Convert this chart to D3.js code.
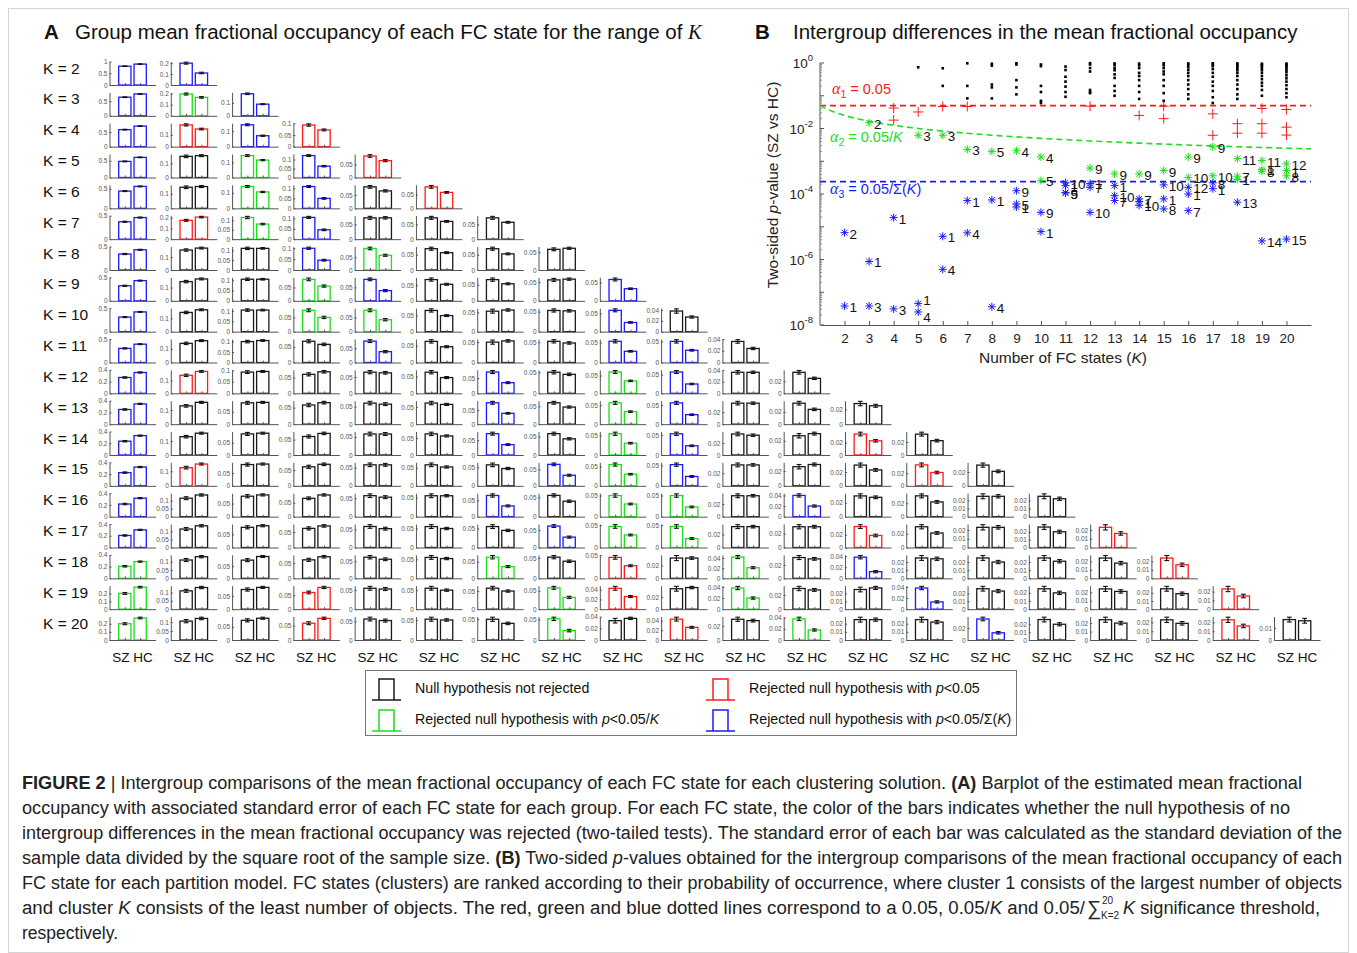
<!DOCTYPE html>
<html lang="en">
<head>
<meta charset="UTF-8">
<title>Figure 2 - fractional occupancy of FC states</title>
<script src="https://d3js.org/d3.v7.min.js"></script>
<style>
  body { margin: 0; background: #fff; }
  svg { font-family: "Liberation Sans", Arial, Helvetica, sans-serif; }
</style>
</head>
<body>
<svg id="fig" width="1357" height="953"></svg>
<script>
// number of FC states per clustering solution
const kValues = [2, 3, 4, 5, 6, 7, 8, 9, 10, 11, 12, 13, 14, 15, 16, 17, 18, 19, 20];

// group mean fractional occupancy, one row per K, one value per FC state
const szMean = [
  [0.80, 0.20],
  [0.635, 0.195, 0.17],
  [0.58, 0.185, 0.14, 0.093],
  [0.48, 0.15, 0.145, 0.122, 0.083],
  [0.44, 0.145, 0.14, 0.11, 0.08, 0.078],
  [0.37, 0.175, 0.115, 0.105, 0.072, 0.072, 0.072],
  [0.34, 0.155, 0.11, 0.10, 0.085, 0.07, 0.07, 0.058],
  [0.32, 0.145, 0.105, 0.08, 0.08, 0.068, 0.066, 0.056, 0.058],
  [0.31, 0.145, 0.105, 0.075, 0.075, 0.066, 0.053, 0.053, 0.058, 0.038],
  [0.30, 0.14, 0.10, 0.068, 0.075, 0.063, 0.05, 0.052, 0.053, 0.05, 0.036],
  [0.27, 0.14, 0.092, 0.06, 0.065, 0.063, 0.07, 0.05, 0.06, 0.057, 0.036, 0.035],
  [0.25, 0.13, 0.086, 0.058, 0.06, 0.062, 0.075, 0.06, 0.056, 0.056, 0.035, 0.034, 0.028],
  [0.235, 0.13, 0.085, 0.06, 0.058, 0.062, 0.072, 0.058, 0.054, 0.053, 0.035, 0.027, 0.034, 0.032],
  [0.225, 0.125, 0.083, 0.06, 0.058, 0.058, 0.057, 0.065, 0.055, 0.052, 0.033, 0.026, 0.03, 0.033, 0.03],
  [0.215, 0.115, 0.078, 0.066, 0.057, 0.055, 0.065, 0.055, 0.05, 0.05, 0.033, 0.04, 0.03, 0.031, 0.025, 0.025],
  [0.205, 0.115, 0.077, 0.062, 0.058, 0.055, 0.055, 0.062, 0.047, 0.047, 0.032, 0.03, 0.033, 0.03, 0.023, 0.026, 0.023],
  [0.205, 0.11, 0.075, 0.06, 0.062, 0.055, 0.063, 0.052, 0.045, 0.032, 0.042, 0.031, 0.038, 0.025, 0.025, 0.025, 0.024, 0.024],
  [0.20, 0.11, 0.075, 0.06, 0.055, 0.055, 0.058, 0.058, 0.043, 0.034, 0.038, 0.029, 0.025, 0.038, 0.026, 0.025, 0.024, 0.025, 0.023],
  [0.20, 0.105, 0.075, 0.058, 0.056, 0.052, 0.05, 0.052, 0.033, 0.043, 0.03, 0.038, 0.025, 0.025, 0.035, 0.026, 0.024, 0.023, 0.023, 0.017]
];
const hcMean = [
  [0.89, 0.11],
  [0.745, 0.165, 0.09],
  [0.70, 0.15, 0.07, 0.072],
  [0.60, 0.155, 0.115, 0.063, 0.065],
  [0.56, 0.15, 0.105, 0.05, 0.065, 0.058],
  [0.46, 0.205, 0.08, 0.045, 0.072, 0.06, 0.057],
  [0.43, 0.17, 0.11, 0.045, 0.058, 0.057, 0.053, 0.061],
  [0.43, 0.165, 0.105, 0.055, 0.038, 0.053, 0.053, 0.058, 0.033],
  [0.42, 0.165, 0.105, 0.05, 0.042, 0.05, 0.056, 0.052, 0.025, 0.027],
  [0.39, 0.16, 0.105, 0.058, 0.038, 0.047, 0.053, 0.048, 0.028, 0.029, 0.024],
  [0.355, 0.17, 0.095, 0.068, 0.063, 0.047, 0.035, 0.045, 0.035, 0.025, 0.036, 0.025],
  [0.345, 0.155, 0.088, 0.065, 0.057, 0.058, 0.038, 0.048, 0.033, 0.025, 0.035, 0.024, 0.025],
  [0.33, 0.155, 0.088, 0.07, 0.058, 0.056, 0.035, 0.044, 0.03, 0.023, 0.033, 0.03, 0.023, 0.022],
  [0.32, 0.15, 0.085, 0.068, 0.058, 0.052, 0.047, 0.032, 0.03, 0.023, 0.033, 0.029, 0.023, 0.021, 0.021],
  [0.315, 0.135, 0.083, 0.078, 0.053, 0.055, 0.033, 0.04, 0.03, 0.023, 0.033, 0.02, 0.028, 0.022, 0.025, 0.022],
  [0.30, 0.135, 0.083, 0.07, 0.052, 0.05, 0.045, 0.03, 0.028, 0.02, 0.032, 0.03, 0.019, 0.021, 0.023, 0.02, 0.016],
  [0.285, 0.13, 0.09, 0.07, 0.056, 0.052, 0.035, 0.042, 0.027, 0.032, 0.021, 0.029, 0.012, 0.024, 0.02, 0.021, 0.018, 0.016],
  [0.28, 0.13, 0.083, 0.078, 0.053, 0.05, 0.05, 0.032, 0.026, 0.036, 0.02, 0.027, 0.027, 0.013, 0.023, 0.02, 0.021, 0.019, 0.015],
  [0.27, 0.12, 0.083, 0.075, 0.052, 0.05, 0.04, 0.023, 0.037, 0.026, 0.028, 0.018, 0.025, 0.022, 0.012, 0.02, 0.02, 0.019, 0.016, 0.016]
];

// approximate standard error by FC state rank
const seSZ = [0.012, 0.009, 0.006, 0.005, 0.005, 0.005, 0.005, 0.004, 0.004, 0.004, 0.003, 0.003, 0.003, 0.003, 0.003, 0.003, 0.003, 0.003, 0.003, 0.002];
const seHC = [0.010, 0.007, 0.004, 0.004, 0.004, 0.003, 0.003, 0.003, 0.002, 0.002, 0.002, 0.002, 0.002, 0.002, 0.002, 0.002, 0.002, 0.002, 0.002, 0.002];

// two-sided p-values (SZ vs HC), one row per K
const pValues = [
  [3.8e-8, 6.6e-6],
  [8.7e-7, 1.5e-2, 3.8e-8],
  [1.9e-5, 4.2e-2, 3.1e-8, 1.8e-2],
  [4.5e-8, 0.74, 6.2e-3, 2.5e-8, 3.2e-2],
  [5.1e-6, 0.69, 6.2e-3, 5.0e-7, 0.2, 4.7e-2],
  [6.3e-5, 4.7e-2, 2.3e-3, 6.5e-6, 0.98, 0.2, 8.3e-2],
  [6.6e-5, 0.95, 0.83, 3.6e-8, 2.0e-3, 0.22, 0.18, 8.3e-2],
  [4.0e-5, 0.98, 0.9, 2.1e-3, 5.0e-5, 0.3, 0.18, 0.11, 1.26e-4],
  [7.1e-6, 0.9, 0.8, 1.35e-3, 2.6e-4, 0.2, 0.13, 0.07, 2.75e-5, 0.06],
  [1.8e-4, 0.78, 0.61, 0.38, 1.1e-4, 0.27, 0.19, 0.13, 1.07e-4, 2.2e-4, 0.093],
  [2.1e-4, 0.048, 0.99, 0.9, 0.7, 0.55, 1.6e-4, 0.15, 6.2e-4, 2.75e-5, 0.13, 0.12],
  [1.8e-4, 0.97, 0.88, 0.72, 0.6, 0.45, 6.3e-5, 0.35, 4.1e-4, 8.9e-5, 0.2, 0.14, 0.1],
  [5.9e-5, 0.96, 0.85, 0.7, 0.5, 0.4, 7.1e-5, 0.3, 4.1e-4, 4.5e-5, 0.2, 0.13, 0.025, 0.08],
  [7.1e-5, 0.048, 0.98, 0.85, 0.7, 0.55, 0.45, 3.5e-5, 5.2e-4, 1.9e-4, 0.3, 0.2, 0.12, 0.02, 0.07],
  [1.0e-4, 0.97, 0.88, 0.75, 0.62, 0.5, 3.1e-5, 0.4, 1.35e-3, 3.2e-4, 0.3, 1.6e-4, 0.22, 0.16, 0.11, 0.08],
  [1.45e-4, 0.98, 0.9, 0.8, 0.65, 0.5, 0.38, 2.2e-4, 2.75e-3, 3.6e-4, 0.27, 0.2, 0.028, 0.14, 0.09, 0.06, 6.2e-3],
  [2.8e-4, 0.97, 0.9, 0.8, 0.7, 0.6, 3.5e-4, 0.5, 0.014, 0.4, 1.2e-3, 0.3, 5.6e-5, 0.22, 0.16, 0.11, 0.08, 7.2e-3],
  [5.6e-4, 0.95, 0.88, 0.041, 0.8, 0.7, 0.6, 5.0e-4, 0.014, 0.5, 1.05e-3, 0.4, 0.32, 3.7e-6, 0.25, 0.2, 0.15, 0.1, 7.2e-3],
  [5.2e-4, 0.96, 0.9, 0.038, 0.82, 0.72, 0.62, 3.6e-4, 0.52, 0.011, 0.42, 8.3e-4, 0.34, 0.27, 4.2e-6, 0.21, 0.16, 0.12, 6.3e-3, 0.09]
];

// vertical nudges (px) for cluster labels that would otherwise collide: "K-cluster"
const labelNudge = { '5-1': -5, '5-4': 4 };

const pTickExponents = [0, -2, -4, -6, -8];
const tickSteps = [0.5, 0.2, 0.1, 0.05, 0.02, 0.01];

const alphaFamily = 0.05 / d3.sum(kValues);   // 0.05 / sum(K)
const COLORS = { ns: '#1a1a1a', red: '#ff1a1a', green: '#1edc1e', blue: '#1a1aff' };

function category(p, K) {
  if (p < alphaFamily) return 'blue';
  if (p < 0.05 / K) return 'green';
  if (p < 0.05) return 'red';
  return 'ns';
}

// pick 1 or 2 ticks whose last tick sits closest to the top of the axis
function smallTicks(top) {
  let best = null;
  tickSteps.forEach(s => {
    const n = Math.floor(top / s + 1e-9);
    if (n < 1 || n > 2) return;
    const cover = n * s / top;
    if (!best || cover > best.cover + 1e-6 || (Math.abs(cover - best.cover) < 1e-6 && n > best.n)) {
      best = { s, n, cover };
    }
  });
  return d3.range(0, best.n + 1).map(i => +(i * best.s).toFixed(3));
}

const svg = d3.select('#fig');
svg.append('rect').attr('width', 1357).attr('height', 953).attr('fill', '#fff');
svg.append('rect').attr('x', 8.5).attr('y', 8.5).attr('width', 1340).attr('height', 944)
  .attr('fill', 'none').attr('stroke', '#d4d4d4');

// ---------- Panel A ----------
const colX = d3.scalePoint().domain(d3.range(1, 21)).range([109.5, 1274]);
const rowY = d3.scalePoint().domain(kValues).range([85, 640]);
const cellW = 46, cellH = 23.5;
const tickFmt = d => String(+d.toFixed(3));
const gA = svg.append('g');

const titleA = svg.append('text').attr('x', 44).attr('y', 39).attr('font-size', 20.5).attr('fill', '#111');
titleA.append('tspan').attr('font-weight', 'bold').text('A');
titleA.append('tspan').attr('x', 75).text('Group mean fractional occupancy of each FC state for the range of ');
titleA.append('tspan').attr('font-family', '"Liberation Serif", "Times New Roman", serif').attr('font-style', 'italic').text('K');

kValues.forEach((K, r) => {
  gA.append('text')
    .attr('x', 43).attr('y', rowY(K) - 17)
    .attr('dominant-baseline', 'central')
    .attr('font-size', 15.5).attr('fill', '#111')
    .text(`K = ${K}`);

  for (let c = 0; c < K; c++) {
    const x0 = colX(c + 1), y0 = rowY(K);
    const bars = [
      { pos: 1, m: szMean[r][c], se: seSZ[c] },
      { pos: 2, m: hcMean[r][c], se: seHC[c] }
    ];
    let top = d3.max(bars, d => d.m + d.se) * 1.03;
    if (top > 0.3) top = Math.ceil(top * 10 - 1e-9) / 10;   // large occupancies get a rounded limit
    const y = d3.scaleLinear().domain([0, top]).range([y0, y0 - cellH]);
    const x = d3.scaleLinear().domain([0, 3]).range([x0, x0 + cellW]);
    const col = COLORS[category(pValues[r][c], K)];
    const cell = gA.append('g');

    cell.selectAll('rect').data(bars).join('rect')
      .attr('x', d => x(d.pos - 0.4))
      .attr('width', x(0.8) - x(0))
      .attr('y', d => y(d.m))
      .attr('height', d => y0 - y(d.m))
      .attr('fill', '#fff')
      .attr('stroke', col)
      .attr('stroke-width', 1.3);

    const eb = cell.selectAll('g.eb').data(bars).join('g').attr('class', 'eb')
      .attr('stroke', '#111').attr('stroke-width', 1.1);
    eb.append('line')
      .attr('x1', d => x(d.pos)).attr('x2', d => x(d.pos))
      .attr('y1', d => y(d.m - d.se)).attr('y2', d => y(d.m + d.se));
    eb.append('line')
      .attr('x1', d => x(d.pos) - 2.4).attr('x2', d => x(d.pos) + 2.4)
      .attr('y1', d => y(d.m + d.se)).attr('y2', d => y(d.m + d.se));
    eb.append('line')
      .attr('x1', d => x(d.pos) - 2.4).attr('x2', d => x(d.pos) + 2.4)
      .attr('y1', d => y(d.m - d.se)).attr('y2', d => y(d.m - d.se));

    cell.append('g').attr('transform', `translate(${x0},0)`)
      .call(d3.axisLeft(y).tickValues(smallTicks(top)).tickSize(-2).tickSizeOuter(0).tickPadding(2).tickFormat(tickFmt))
      .call(ax => {
        ax.attr('font-size', 6.5).attr('font-family', null);
        ax.select('.domain').attr('stroke', '#555');
        ax.selectAll('line').attr('stroke', '#555');
        ax.selectAll('text').attr('fill', '#555');
      });
    cell.append('g').attr('transform', `translate(0,${y0})`)
      .call(d3.axisBottom(x).tickValues([1, 2]).tickSize(-2).tickSizeOuter(0).tickFormat(''))
      .call(ax => {
        ax.select('.domain').attr('stroke', '#555');
        ax.selectAll('line').attr('stroke', '#555');
      });
  }
});

gA.selectAll('text.grp').data(d3.range(1, 21)).join('text')
  .attr('class', 'grp')
  .attr('x', c => colX(c) + cellW / 2)
  .attr('y', 662)
  .attr('text-anchor', 'middle')
  .attr('font-size', 13.5).attr('fill', '#111')
  .text('SZ HC');

// ---------- Legend ----------
const legend = svg.append('g');
legend.append('rect').attr('x', 365.5).attr('y', 670.5).attr('width', 651).attr('height', 65)
  .attr('fill', '#fff').attr('stroke', '#777');
const legendItems = [
  { cat: 'ns', x: 372, y: 700, parts: [['Null hypothesis not rejected']] },
  { cat: 'red', x: 706, y: 700, parts: [['Rejected null hypothesis with '], ['p', 'i'], ['<0.05']] },
  { cat: 'green', x: 372, y: 731, parts: [['Rejected null hypothesis with '], ['p', 'i'], ['<0.05/'], ['K', 'i']] },
  { cat: 'blue', x: 706, y: 731, parts: [['Rejected null hypothesis with '], ['p', 'i'], ['<0.05/Σ('], ['K', 'i'], [')']] }
];
legendItems.forEach(it => {
  const col = COLORS[it.cat];
  legend.append('line').attr('x1', it.x).attr('x2', it.x + 29).attr('y1', it.y).attr('y2', it.y)
    .attr('stroke', col).attr('stroke-width', 1.5);
  legend.append('path')
    .attr('d', `M${it.x + 7},${it.y}V${it.y - 21}H${it.x + 22}V${it.y}`)
    .attr('fill', 'none').attr('stroke', col).attr('stroke-width', 1.5);
  const t = legend.append('text').attr('x', it.x + 43).attr('y', it.y - 7)
    .attr('font-size', 14.2).attr('fill', '#111');
  it.parts.forEach(([s, st]) => {
    const ts = t.append('tspan').text(s);
    if (st === 'i') ts.attr('font-style', 'italic');
  });
});

// ---------- Panel B ----------
const gB = svg.append('g');
const bx = d3.scaleLinear().domain([1, 21]).range([820, 1311]);
const by = d3.scaleLog().domain([1e-8, 1]).range([325, 63]);

const titleB = svg.append('text').attr('x', 755).attr('y', 39).attr('font-size', 20.5).attr('fill', '#111');
titleB.append('tspan').attr('font-weight', 'bold').text('B');
titleB.append('tspan').attr('x', 793).text('Intergroup differences in the mean fractional occupancy');

// y axis with log ticks
gB.append('line').attr('x1', 820).attr('x2', 820).attr('y1', 63).attr('y2', 325).attr('stroke', '#555');
for (let e = -8; e <= 0; e++) {
  gB.append('line').attr('x1', 820).attr('x2', 824).attr('y1', by(10 ** e)).attr('y2', by(10 ** e)).attr('stroke', '#555');
  if (e < 0) {
    for (let m = 2; m <= 9; m++) {
      const v = m * 10 ** e;
      gB.append('line').attr('x1', 820).attr('x2', 822).attr('y1', by(v)).attr('y2', by(v)).attr('stroke', '#888');
    }
  }
}
pTickExponents.forEach(e => {
  const t = gB.append('text').attr('x', 813).attr('y', by(10 ** e) + 5)
    .attr('text-anchor', 'end').attr('font-size', 13.5).attr('fill', '#222');
  t.append('tspan').text('10');
  t.append('tspan').attr('dy', -7).attr('font-size', 9.5).text(String(e));
});

// x axis
gB.append('g').attr('transform', 'translate(0,325)')
  .call(d3.axisBottom(bx).tickValues(kValues).tickSize(-4).tickSizeOuter(0).tickPadding(8).tickFormat(d3.format('d')))
  .call(ax => {
    ax.attr('font-size', 13.5).attr('font-family', null);
    ax.select('.domain').attr('stroke', '#555');
    ax.selectAll('line').attr('stroke', '#555');
    ax.selectAll('text').attr('fill', '#222');
  });

// axis titles
const yLab = gB.append('text').attr('transform', 'translate(778,185) rotate(-90)')
  .attr('text-anchor', 'middle').attr('font-size', 15.5).attr('fill', '#222');
yLab.append('tspan').text('Two-sided ');
yLab.append('tspan').attr('font-style', 'italic').text('p');
yLab.append('tspan').text('-value (SZ vs HC)');
const xLab = gB.append('text').attr('x', 1063).attr('y', 363)
  .attr('text-anchor', 'middle').attr('font-size', 15.5).attr('fill', '#222');
xLab.append('tspan').text('Number of FC states (');
xLab.append('tspan').attr('font-style', 'italic').text('K');
xLab.append('tspan').text(')');

// threshold lines
gB.append('line').attr('x1', bx(1)).attr('x2', bx(21)).attr('y1', by(0.05)).attr('y2', by(0.05))
  .attr('stroke', COLORS.red).attr('stroke-width', 1.6).attr('stroke-dasharray', '6,4');
gB.append('path')
  .datum(d3.range(1, 21.01, 0.25))
  .attr('d', d3.line().x(k => bx(k)).y(k => by(0.05 / k)))
  .attr('fill', 'none').attr('stroke', COLORS.green).attr('stroke-width', 1.6).attr('stroke-dasharray', '6,4');
gB.append('line').attr('x1', bx(1)).attr('x2', bx(21)).attr('y1', by(alphaFamily)).attr('y2', by(alphaFamily))
  .attr('stroke', COLORS.blue).attr('stroke-width', 1.6).attr('stroke-dasharray', '6,4');

// threshold annotations
function alphaLabel(x, y, idx, rest, col) {
  const t = gB.append('text').attr('x', x).attr('y', y).attr('font-size', 14.5).attr('fill', col);
  t.append('tspan').attr('font-family', '"Liberation Serif", "Times New Roman", serif').attr('font-style', 'italic').attr('font-size', 16).text('α');
  t.append('tspan').attr('dy', 4).attr('font-size', 10.5).text(idx);
  t.append('tspan').attr('dy', -4).text(' ');
  rest.forEach(([s, st]) => {
    const ts = t.append('tspan').text(s);
    if (st === 'i') ts.attr('font-style', 'italic');
  });
}
alphaLabel(832, 94, '1', [['= 0.05']], COLORS.red);
alphaLabel(830, 142, '2', [['= 0.05/'], ['K', 'i']], COLORS.green);
alphaLabel(830, 194, '3', [['= 0.05/Σ('], ['K', 'i'], [')']], COLORS.blue);

// points
const points = kValues.flatMap((K, r) => pValues[r].map((p, i) => ({ K, cluster: i + 1, p, cat: category(p, K) })));
const star = 'M-4,0H4M0,-4V4M-2.9,-2.9L2.9,2.9M-2.9,2.9L2.9,-2.9';

gB.selectAll('rect.ns').data(points.filter(d => d.cat === 'ns')).join('rect')
  .attr('class', 'ns').attr('x', d => bx(d.K) - 1.3).attr('y', d => by(d.p) - 1.3)
  .attr('width', 2.6).attr('height', 2.6).attr('fill', '#000');
gB.selectAll('path.plus').data(points.filter(d => d.cat === 'red')).join('path')
  .attr('class', 'plus').attr('transform', d => `translate(${bx(d.K)},${by(d.p)})`)
  .attr('d', 'M-5,0H5M0,-5V5').attr('stroke', COLORS.red).attr('stroke-width', 1);
const sig = points.filter(d => d.cat === 'green' || d.cat === 'blue');
gB.selectAll('path.star').data(sig).join('path')
  .attr('class', 'star').attr('transform', d => `translate(${bx(d.K)},${by(d.p)})`)
  .attr('d', star).attr('stroke', d => COLORS[d.cat]).attr('stroke-width', 1);
gB.selectAll('text.lab').data(sig).join('text')
  .attr('class', 'lab').attr('x', d => bx(d.K) + 5)
  .attr('y', d => by(d.p) + 6 + (labelNudge[`${d.K}-${d.cluster}`] || 0))
  .attr('font-size', 13.5).attr('fill', '#111')
  .text(d => d.cluster);

// ---------- Caption ----------
const captionLines = [
  [['FIGURE 2', 'b'], [' | Intergroup comparisons of the mean fractional occupancy of each FC state for each clustering solution. '], ['(A)', 'b'], [' Barplot of the estimated mean fractional']],
  [['occupancy with associated standard error of each FC state for each group. For each FC state, the color of the bars indicates whether the null hypothesis of no']],
  [['intergroup differences in the mean fractional occupancy was rejected (two-tailed tests). The standard error of each bar was calculated as the standard deviation of the']],
  [['sample data divided by the square root of the sample size. '], ['(B)', 'b'], [' Two-sided '], ['p', 'i'], ['-values obtained for the intergroup comparisons of the mean fractional occupancy of each']],
  [['FC state for each partition model. FC states (clusters) are ranked according to their probability of occurrence, where cluster 1 consists of the largest number of objects']],
  [['and cluster '], ['K', 'i'], [' consists of the least number of objects. The red, green and blue dotted lines correspond to a 0.05, 0.05/'], ['K', 'i'], [' and 0.05/']],
  [['respectively.']]
];
const captionEnds = [1302, 1290, 1342, 1342, 1342, 1085, 118];
const cap = svg.append('g').attr('fill', '#222').attr('font-size', 18);
captionLines.forEach((parts, i) => {
  const t = cap.append('text').attr('x', 22).attr('y', 789 + i * 25)
    .attr('textLength', captionEnds[i] - 22).attr('lengthAdjust', 'spacingAndGlyphs');
  parts.forEach(([s, st]) => {
    const ts = t.append('tspan').text(s);
    if (st === 'b') ts.attr('font-weight', 'bold');
    if (st === 'i') ts.attr('font-style', 'italic');
  });
});
// sum symbol with limits on line 6
cap.append('text').attr('x', 1087).attr('y', 915).attr('font-size', 20).text('∑');
cap.append('text').attr('x', 1102).attr('y', 904).attr('font-size', 10).text('20');
cap.append('text').attr('x', 1101).attr('y', 919).attr('font-size', 10).text('K=2');
const tail = cap.append('text').attr('x', 1123).attr('y', 914)
  .attr('textLength', 1320 - 1123).attr('lengthAdjust', 'spacingAndGlyphs');
tail.append('tspan').attr('font-style', 'italic').text('K');
tail.append('tspan').text(' significance threshold,');
</script>
</body>
</html>
